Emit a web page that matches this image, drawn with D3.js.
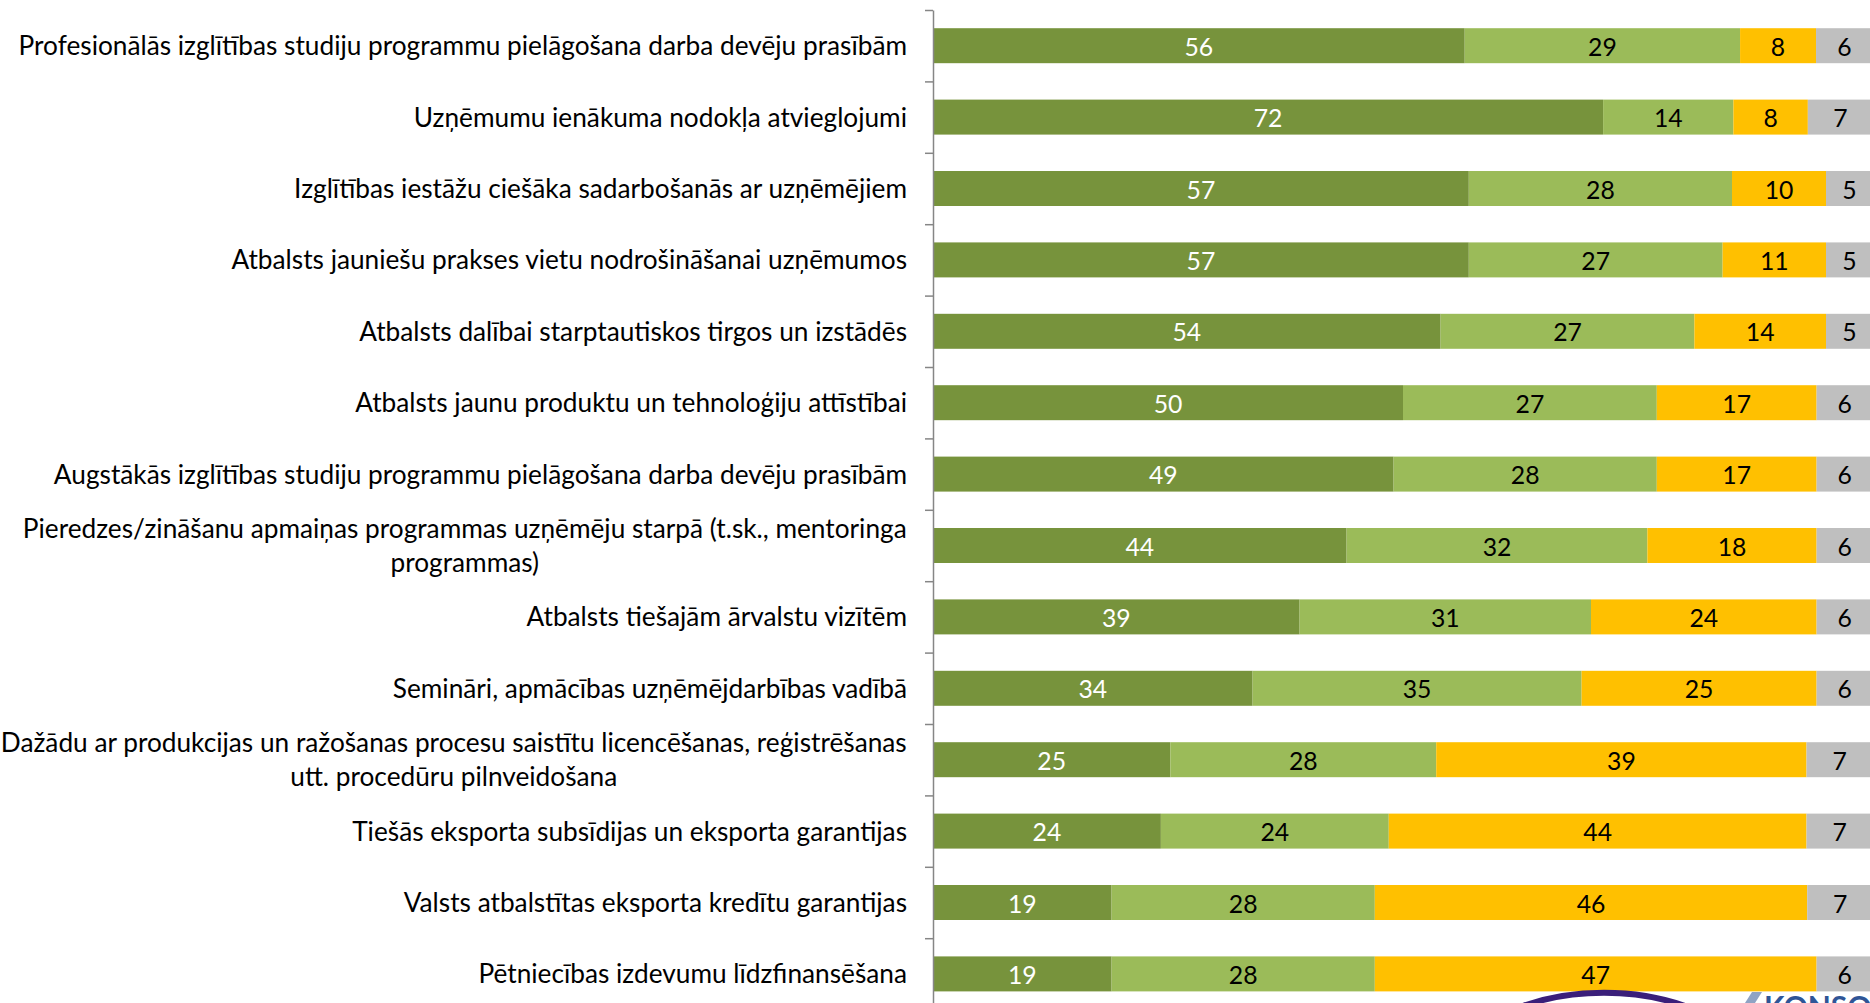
<!DOCTYPE html>
<html lang="lv">
<head>
  <meta charset="UTF-8">
  <title>stacked bars</title>
  <script src="https://cdn.jsdelivr.net/npm/d3@7"></script>
  <style>
    html, body { margin: 0; padding: 0; background: #fff; overflow: hidden; }
    text { font-family: Lato, "Open Sans", sans-serif; }
  </style>
</head>
<body>
  <svg width="1870" height="1003" id="mainsvg"></svg>
  <script>
    // categories, top to bottom
    const categories = [
      'Profesionālās izglītības studiju programmu pielāgošana darba devēju prasībām',
      'Uzņēmumu ienākuma nodokļa atvieglojumi',
      'Izglītības iestāžu ciešāka sadarbošanās ar uzņēmējiem',
      'Atbalsts jauniešu prakses vietu nodrošināšanai uzņēmumos',
      'Atbalsts dalībai starptautiskos tirgos un izstādēs',
      'Atbalsts jaunu produktu un tehnoloģiju attīstībai',
      'Augstākās izglītības studiju programmu pielāgošana darba devēju prasībām',
      'Pieredzes/zināšanu apmaiņas programmas uzņēmēju starpā (t.sk., mentoringa programmas)',
      'Atbalsts tiešajām ārvalstu vizītēm',
      'Semināri, apmācības uzņēmējdarbības vadībā',
      'Dažādu ar produkcijas un ražošanas procesu saistītu licencēšanas, reģistrēšanas utt. procedūru pilnveidošana',
      'Tiešās eksporta subsīdijas un eksporta garantijas',
      'Valsts atbalstītas eksporta kredītu garantijas',
      'Pētniecības izdevumu līdzfinansēšana'
    ]
    const series = ['s1', 's2', 's3', 's4']
    const s1 = [56, 72, 57, 57, 54, 50, 49, 44, 39, 34, 25, 24, 19, 19]
    const s2 = [29, 14, 28, 27, 27, 27, 28, 32, 31, 35, 28, 24, 28, 28]
    const s3 = [8, 8, 10, 11, 14, 17, 17, 18, 24, 25, 39, 44, 46, 47]
    const s4 = [6, 7, 5, 5, 5, 6, 6, 6, 6, 6, 7, 7, 7, 6]

    const colors = ['#77933C', '#9BBB59', '#FFC000', '#BFBFBF']
    const labelColors = ['#ffffff', '#000000', '#000000', '#000000']

    const rows = categories.map((c, i) => ({cat: c, s1: s1[i], s2: s2[i], s3: s3[i], s4: s4[i]}))

    const svg = d3.select('#mainsvg')
    const axisX = 933
    const topY = 10
    const step = 71.4
    const plotW = 940

    const xScale = d3.scaleLinear().domain([0, 1]).range([axisX, axisX + plotW])
    const yScale = d3.scaleBand()
      .domain(categories)
      .range([topY, topY + step * categories.length])
      .paddingInner(0.51)
      .paddingOuter(0.255)

    const stacked = d3.stack().keys(series).offset(d3.stackOffsetExpand)(rows)

    const g = svg.append('g')

    stacked.forEach((layer, si) => {
      g.append('g').selectAll('rect')
        .data(layer)
        .join('rect')
        .attr('x', d => xScale(d[0]))
        .attr('width', d => xScale(d[1]) - xScale(d[0]))
        .attr('y', d => yScale(d.data.cat))
        .attr('height', yScale.bandwidth())
        .attr('fill', colors[si])
    })

    // horizontal squeeze so the text width matches the reference
    const probe = svg.append('text').attr('font-size', 26.5).text(categories[0])
    const sx = 889 / probe.node().getComputedTextLength()
    probe.remove()

    // data labels
    stacked.forEach((layer, si) => {
      g.append('g').selectAll('text')
        .data(layer)
        .join('text')
        .attr('transform', d => `translate(${(xScale(d[0]) + xScale(d[1])) / 2},${yScale(d.data.cat) + yScale.bandwidth() / 2}) scale(${sx},1)`)
        .attr('text-anchor', 'middle')
        .attr('dy', '0.4em')
        .attr('font-size', 25)
        .attr('fill', labelColors[si])
        .text(d => d.data[series[si]])
    })

    // category axis: line with ticks between categories
    const tickScale = d3.scaleLinear().domain([0, categories.length]).range([topY, topY + step * categories.length])
    svg.append('g')
      .attr('transform', `translate(${axisX},0)`)
      .call(d3.axisLeft(tickScale).tickValues(d3.range(0, categories.length + 1)).tickSize(8).tickSizeOuter(0).tickFormat(''))
      .call(a => a.selectAll('line, path').attr('stroke', '#868686').attr('stroke-width', 1.5))

    // category labels, wrapped and centred when too long
    const maxW = 925
    const labelRight = 907
    const lineH = 33.5
    const lab = svg.append('g')
    categories.forEach(c => {
      const t = lab.append('text').attr('font-size', 26.5).attr('fill', '#000')
      const words = c.split(' ')
      let lines = []
      let cur = []
      words.forEach(w => {
        const test = cur.concat(w).join(' ')
        t.text(test)
        if (t.node().getComputedTextLength() * sx > maxW && cur.length) {
          lines.push(cur.join(' '))
          cur = [w]
        } else {
          cur.push(w)
        }
      })
      lines.push(cur.join(' '))
      t.text(null)
      const widths = lines.map(l => { t.text(l); const w = t.node().getComputedTextLength(); t.text(null); return w })
      const blockW = d3.max(widths)
      const cy = yScale(c) + yScale.bandwidth() / 2
      const y0 = cy - (lines.length - 1) * lineH / 2
      t.attr('transform', `translate(${labelRight},${y0}) scale(${sx},1)`)
        .attr('text-anchor', lines.length > 1 ? 'middle' : 'end')
      lines.forEach((l, i) => {
        t.append('tspan')
          .attr('x', lines.length > 1 ? -blockW / 2 : 0)
          .attr('y', i * lineH)
          .attr('dy', '0.36em')
          .text(l)
      })
    })

    // partly visible logo in the lower right corner
    const logo = svg.append('g')
    logo.append('path')
      .attr('d', 'M1508,1012 A170,110 0 0 1 1700,1012')
      .attr('fill', 'none').attr('stroke', '#3A1F7A').attr('stroke-width', 6)
    logo.append('path')
      .attr('d', 'M1745,1003 L1752,992 L1762,992 L1755,1003 Z')
      .attr('fill', '#8FA3C4')
    logo.append('text')
      .attr('x', 1764).attr('y', 1018)
      .attr('font-size', 30).attr('font-weight', 'bold').attr('fill', '#2F5597')
      .text('KONSO')
  </script>
</body>
</html>
